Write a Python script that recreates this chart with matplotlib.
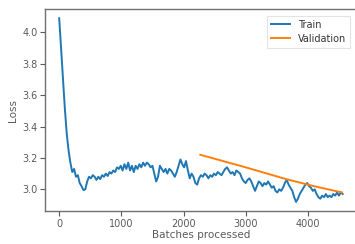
import numpy as np
import matplotlib
matplotlib.use("Agg")
import matplotlib.pyplot as plt

train_step = 30
train_loss = [
    4.09, 3.90, 3.72, 3.52, 3.36, 3.25, 3.17, 3.11, 3.13, 3.08,
    3.09, 3.04, 3.02, 2.995, 3.00, 3.05, 3.08, 3.07, 3.09, 3.08,
    3.06, 3.08, 3.065, 3.09, 3.08, 3.10, 3.085, 3.11, 3.10, 3.12,
    3.11, 3.14, 3.13, 3.15, 3.12, 3.16, 3.13, 3.17, 3.12, 3.15,
    3.11, 3.15, 3.13, 3.16, 3.14, 3.17, 3.15, 3.17, 3.16, 3.14,
    3.15, 3.10, 3.05, 3.08, 3.15, 3.13, 3.11, 3.13, 3.10, 3.13,
    3.12, 3.10, 3.08, 3.11, 3.15, 3.19, 3.16, 3.14, 3.18, 3.12,
    3.07, 3.10, 3.08, 3.04, 3.03, 3.07, 3.09, 3.08, 3.10, 3.09,
    3.07, 3.09, 3.08, 3.10, 3.09, 3.11, 3.10, 3.09, 3.11, 3.13,
    3.14, 3.12, 3.10, 3.11, 3.09, 3.12, 3.11, 3.10, 3.07, 3.05,
    3.04, 3.06, 3.07, 3.05, 3.02, 2.99, 3.02, 3.05, 3.04, 3.02,
    3.04, 3.03, 3.05, 3.03, 3.01, 3.02, 2.99, 2.98, 3.00, 2.99,
    3.01, 3.04, 3.06, 3.03, 3.01, 2.99, 2.95, 2.92, 2.94, 2.97,
    2.99, 3.01, 3.03, 3.04, 3.02, 3.01, 2.99, 3.00, 2.97, 2.95,
    2.94, 2.96, 2.95, 2.97, 2.95, 2.96, 2.95, 2.97, 2.96, 2.98,
    2.96, 2.98, 2.97,
]
train_batches = np.arange(len(train_loss)) * train_step

val_batches = [2270, 3000, 3650, 4100, 4550]
val_loss = [3.22, 3.14, 3.065, 3.02, 2.98]

text_color = "#5a5a5a"
spine_color = "#707070"

fig = plt.figure(figsize=(3.55, 2.44), dpi=100)
ax = fig.add_axes([0.127, 0.135, 0.878, 0.828])
ax.plot(train_batches, train_loss, color="#1f77b4", lw=1.4, label="Train")
ax.plot(val_batches, val_loss, color="#ff7f0e", lw=1.4, label="Validation")
ax.set_xlim(-227, 4787)

ax.set_xticks([0, 1000, 2000, 3000, 4000])
ax.set_yticks([3.0, 3.2, 3.4, 3.6, 3.8, 4.0])
ax.set_xlabel("Batches processed", fontsize=7.5, color=text_color, labelpad=1)
ax.set_ylabel("Loss", fontsize=7.5, color=text_color, labelpad=3)
ax.tick_params(labelsize=7, colors=text_color, length=3.5, width=0.8, pad=2)
for s in ax.spines.values():
    s.set_color(spine_color)
    s.set_linewidth(1.0)
ax.spines["right"].set_visible(False)

leg = ax.legend(loc="upper right", fontsize=7, frameon=True, fancybox=False,
                borderpad=0.4, handlelength=2.0, labelspacing=0.4,
                bbox_to_anchor=(0.995, 0.99))
leg.get_frame().set_edgecolor("#dddddd")
leg.get_frame().set_linewidth(0.8)
for t in leg.get_texts():
    t.set_color("#333333")

fig.savefig("out.png", dpi=100)
